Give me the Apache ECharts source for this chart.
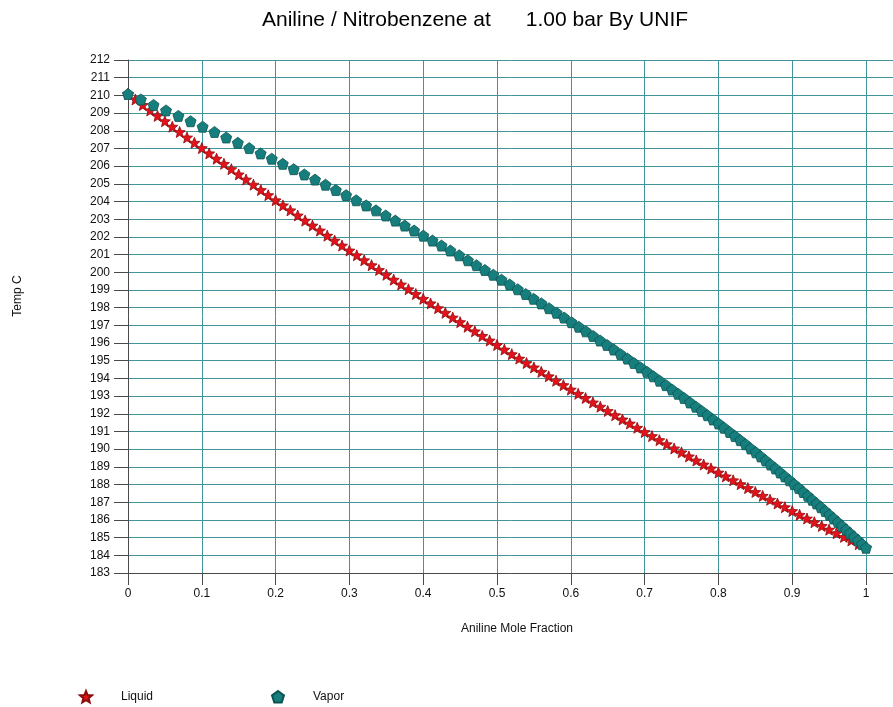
<!DOCTYPE html>
<html>
<head>
<meta charset="utf-8">
<script src="https://cdn.jsdelivr.net/npm/echarts@6/dist/echarts.min.js"></script>
<style>
  html, body { margin: 0; padding: 0; background: #ffffff; }
  #chart { width: 893px; height: 707px; }
</style>
</head>
<body>
<div id="chart"></div>
<script>
// Liquid mole fraction of aniline (bubble-point grid)
const liquidX = [
  0, 0.01, 0.02, 0.03, 0.04, 0.05, 0.06, 0.07, 0.08, 0.09,
  0.10, 0.11, 0.12, 0.13, 0.14, 0.15, 0.16, 0.17, 0.18, 0.19,
  0.20, 0.21, 0.22, 0.23, 0.24, 0.25, 0.26, 0.27, 0.28, 0.29,
  0.30, 0.31, 0.32, 0.33, 0.34, 0.35, 0.36, 0.37, 0.38, 0.39,
  0.40, 0.41, 0.42, 0.43, 0.44, 0.45, 0.46, 0.47, 0.48, 0.49,
  0.50, 0.51, 0.52, 0.53, 0.54, 0.55, 0.56, 0.57, 0.58, 0.59,
  0.60, 0.61, 0.62, 0.63, 0.64, 0.65, 0.66, 0.67, 0.68, 0.69,
  0.70, 0.71, 0.72, 0.73, 0.74, 0.75, 0.76, 0.77, 0.78, 0.79,
  0.80, 0.81, 0.82, 0.83, 0.84, 0.85, 0.86, 0.87, 0.88, 0.89,
  0.90, 0.91, 0.92, 0.93, 0.94, 0.95, 0.96, 0.97, 0.98, 0.99,
  1
];

// Equilibrium temperature, deg C, at each liquid composition
const bubbleT = [
  210.08, 209.77, 209.46, 209.15, 208.84, 208.54, 208.23, 207.93, 207.62, 207.32,
  207.02, 206.72, 206.42, 206.13, 205.83, 205.53, 205.24, 204.95, 204.65, 204.36,
  204.07, 203.78, 203.50, 203.21, 202.92, 202.64, 202.36, 202.07, 201.79, 201.51,
  201.23, 200.96, 200.68, 200.40, 200.13, 199.86, 199.58, 199.31, 199.04, 198.77,
  198.50, 198.24, 197.97, 197.71, 197.44, 197.18, 196.92, 196.66, 196.40, 196.14,
  195.89, 195.63, 195.37, 195.12, 194.87, 194.62, 194.37, 194.12, 193.87, 193.62,
  193.37, 193.13, 192.89, 192.64, 192.40, 192.16, 191.92, 191.68, 191.45, 191.21,
  190.97, 190.74, 190.51, 190.28, 190.04, 189.82, 189.59, 189.36, 189.13, 188.91,
  188.68, 188.46, 188.24, 188.02, 187.80, 187.58, 187.36, 187.14, 186.93, 186.72,
  186.50, 186.29, 186.08, 185.87, 185.66, 185.45, 185.25, 185.04, 184.84, 184.63,
  184.43
];

// Vapor mole fraction of aniline in equilibrium with each liquid point
const vaporY = [
  0, 0.0174, 0.0346, 0.0515, 0.0683, 0.0848, 0.1011, 0.1172, 0.1331, 0.1488,
  0.1643, 0.1797, 0.1948, 0.2097, 0.2245, 0.2390, 0.2534, 0.2676, 0.2816, 0.2955,
  0.3092, 0.3227, 0.3360, 0.3492, 0.3622, 0.3750, 0.3877, 0.4002, 0.4126, 0.4248,
  0.4368, 0.4488, 0.4605, 0.4721, 0.4836, 0.4950, 0.5061, 0.5172, 0.5281, 0.5389,
  0.5496, 0.5601, 0.5705, 0.5807, 0.5909, 0.6009, 0.6108, 0.6205, 0.6302, 0.6397,
  0.6491, 0.6584, 0.6676, 0.6767, 0.6856, 0.6945, 0.7032, 0.7119, 0.7204, 0.7289,
  0.7372, 0.7454, 0.7535, 0.7616, 0.7695, 0.7774, 0.7851, 0.7928, 0.8003, 0.8078,
  0.8152, 0.8224, 0.8297, 0.8368, 0.8438, 0.8507, 0.8575, 0.8641, 0.8707, 0.8773,
  0.8837, 0.8901, 0.8964, 0.9027, 0.9089, 0.9150, 0.9211, 0.9271, 0.9330, 0.9389,
  0.9448, 0.9505, 0.9562, 0.9619, 0.9675, 0.9730, 0.9785, 0.9840, 0.9894, 0.9947,
  1
];

const seriesNames = ['Liquid', 'Vapor'];

const STAR = 'path://M50 0 L62.93 32.2 L97.55 34.55 L70.92 56.8 L79.39 90.45 L50 72 L20.61 90.45 L29.08 56.8 L2.45 34.55 L37.07 32.2 Z';
const PENTAGON = 'path://M50 0 L97.55 34.55 L79.39 90.45 L20.61 90.45 L2.45 34.55 Z';

const FONT = '"Liberation Sans", Arial, sans-serif';
const GRID_COLOR = '#3f959b';
const AXIS_COLOR = '#4a4a4a';

const liquidData = liquidX.map((x, i) => [x, bubbleT[i]]);
const vaporData = vaporY.map((y, i) => [y, bubbleT[i]]);

const chart = echarts.init(document.getElementById('chart'), null, { renderer: 'canvas' });

chart.setOption({
  animation: false,
  backgroundColor: '#ffffff',
  textStyle: { fontFamily: FONT },
  title: {
    text: 'Aniline / Nitrobenzene at      1.00 bar By UNIF',
    left: 257,
    top: 5,
    textStyle: { fontFamily: FONT, fontSize: 21, fontWeight: 'normal', color: '#000000' }
  },
  grid: { left: 128, right: 0, top: 60, bottom: 134, containLabel: false },
  xAxis: {
    type: 'value',
    min: 0,
    max: 1.0366,
    interval: 0.1,
    axisLine: { show: true, onZero: false, lineStyle: { color: AXIS_COLOR, width: 1 } },
    axisTick: { show: true, length: 12, lineStyle: { color: AXIS_COLOR } },
    axisLabel: {
      margin: 15, fontSize: 12, color: '#111111', fontFamily: FONT,
      showMaxLabel: false,
      formatter: v => (Math.abs(v * 10 - Math.round(v * 10)) < 1e-6 ? String(+v.toFixed(1)) : '')
    },
    splitLine: { show: true, lineStyle: { color: GRID_COLOR, width: 1 } }
  },
  yAxis: {
    type: 'value',
    min: 183,
    max: 212,
    interval: 1,
    axisLine: { show: true, onZero: false, lineStyle: { color: AXIS_COLOR, width: 1 } },
    axisTick: { show: true, length: 14, lineStyle: { color: AXIS_COLOR } },
    axisLabel: { margin: 18, fontSize: 12, color: '#111111', fontFamily: FONT },
    splitLine: { show: true, lineStyle: { color: GRID_COLOR, width: 1 } }
  },
  legend: [
    {
      data: [{ name: seriesNames[0], icon: STAR }],
      left: 74, top: 685, itemWidth: 12, itemHeight: 12,
      textStyle: { fontFamily: FONT, fontSize: 12, color: '#111111', padding: [0, 0, 0, 24] }
    },
    {
      data: [{ name: seriesNames[1], icon: PENTAGON }],
      left: 266, top: 685, itemWidth: 12, itemHeight: 12,
      textStyle: { fontFamily: FONT, fontSize: 12, color: '#111111', padding: [0, 0, 0, 24] }
    }
  ],
  graphic: [
    {
      type: 'text', x: 18, y: 296, rotation: Math.PI / 2,
      style: { text: 'Temp C', fontSize: 12, fontFamily: FONT, fill: '#111111', align: 'center', verticalAlign: 'middle' }
    },
    {
      type: 'text', x: 517, y: 629,
      style: { text: 'Aniline Mole Fraction', fontSize: 12, fontFamily: FONT, fill: '#111111', align: 'center', verticalAlign: 'middle' }
    }
  ],
  series: [
    {
      name: seriesNames[0],
      type: 'scatter',
      data: liquidData,
      symbol: STAR,
      symbolSize: 11,
      itemStyle: { color: '#e3121b', borderColor: '#8e0b0b', borderWidth: 0.8, opacity: 1 }
    },
    {
      name: seriesNames[1],
      type: 'scatter',
      data: vaporData,
      symbol: PENTAGON,
      symbolSize: 11,
      itemStyle: { color: '#167f7d', borderColor: '#0c5352', borderWidth: 0.8, opacity: 1 }
    }
  ]
});
</script>
</body>
</html>
